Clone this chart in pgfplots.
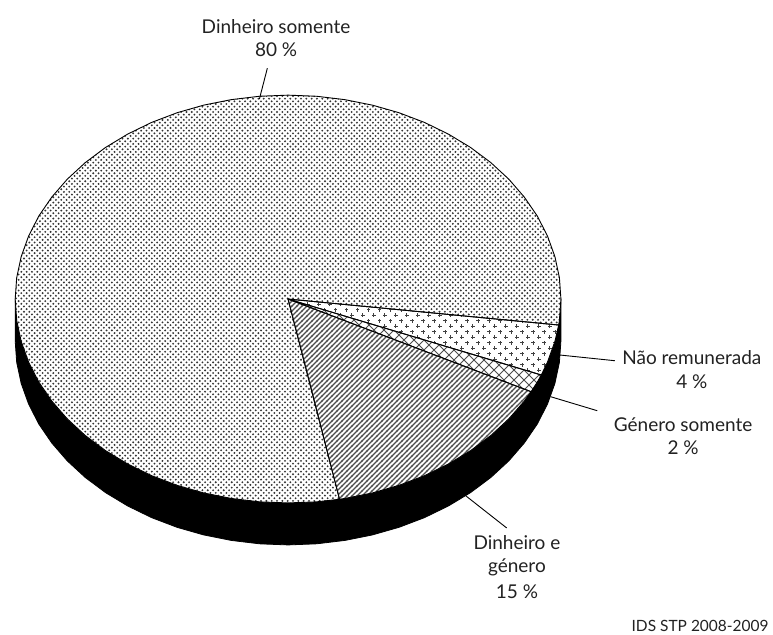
\documentclass[border=0pt]{standalone}
\usepackage{pgfplots}
\pgfplotsset{compat=1.18}
\usepackage{fontspec}
\setmainfont{Lato}
\usetikzlibrary{patterns}
\definecolor{txt}{HTML}{222222}
\tikzset{lab/.style={font=\fontsize{19}{22}\selectfont, text=txt, inner sep=0pt}}
\pgfdeclarepatternformonly{pdots}{\pgfqpoint{-1.2pt}{-1.2pt}}{\pgfqpoint{4.33pt}{4.33pt}}{\pgfqpoint{5.33pt}{5.33pt}}{%
  \pgfpathcircle{\pgfqpoint{0pt}{0pt}}{1.05pt}\pgfusepath{fill}
  \pgfpathcircle{\pgfqpoint{2.665pt}{2.665pt}}{1.05pt}\pgfusepath{fill}}
\pgfdeclarepatternformonly{pplus}{\pgfqpoint{-2pt}{-2pt}}{\pgfqpoint{9pt}{9pt}}{\pgfqpoint{11pt}{11pt}}{%
  \pgfpathrectangle{\pgfqpoint{-1.8pt}{-0.6pt}}{\pgfqpoint{3.6pt}{1.2pt}}\pgfusepath{fill}
  \pgfpathrectangle{\pgfqpoint{-0.6pt}{-1.8pt}}{\pgfqpoint{1.2pt}{3.6pt}}\pgfusepath{fill}
  \pgfpathrectangle{\pgfqpoint{3.7pt}{4.9pt}}{\pgfqpoint{3.6pt}{1.2pt}}\pgfusepath{fill}
  \pgfpathrectangle{\pgfqpoint{4.9pt}{3.7pt}}{\pgfqpoint{1.2pt}{3.6pt}}\pgfusepath{fill}}
\pgfdeclarepatternformonly{pcross}{\pgfqpoint{0pt}{0pt}}{\pgfqpoint{10pt}{10pt}}{\pgfqpoint{10pt}{10pt}}{%
  \pgfsetlinewidth{1pt}
  \pgfpathmoveto{\pgfqpoint{0pt}{0pt}}\pgfpathlineto{\pgfqpoint{10pt}{10pt}}
  \pgfpathmoveto{\pgfqpoint{0pt}{10pt}}\pgfpathlineto{\pgfqpoint{10pt}{0pt}}\pgfusepath{stroke}}
\pgfdeclarepatternformonly{phatch}{\pgfqpoint{0pt}{0pt}}{\pgfqpoint{5.33pt}{5.33pt}}{\pgfqpoint{5.33pt}{5.33pt}}{%
  \pgfsetlinewidth{1.5pt}
  \pgfpathmoveto{\pgfqpoint{-1pt}{-1pt}}\pgfpathlineto{\pgfqpoint{6.33pt}{6.33pt}}
  \pgfpathmoveto{\pgfqpoint{-1pt}{4.33pt}}\pgfpathlineto{\pgfqpoint{1pt}{6.33pt}}
  \pgfpathmoveto{\pgfqpoint{4.33pt}{-1pt}}\pgfpathlineto{\pgfqpoint{6.33pt}{1pt}}\pgfusepath{stroke}}
\begin{document}
\begin{tikzpicture}
\begin{axis}[
  scale only axis, width=773pt, height=634pt,
  xmin=0, xmax=773, ymin=0, ymax=634, y dir=reverse,
  hide axis, clip=false,
]
\addplot[draw=white, fill=white, forget plot] coordinates {(0,0) (773,0) (773,634) (0,634)} -- cycle;
% side of the disc
\addplot[draw=black, fill=black, line width=0.8pt] coordinates {
 (15,299) (15,341) (16.5,362.3) (21,383.4) (28.4,404) (38.6,424) (51.6,443) (67.1,460.9) (85.1,477.5) (105.3,492.6) (127.5,506) (151.5,517.7) (177,527.4) (203.6,535) (231.2,540.5) (259.5,543.9) (288,545)
 (316.5,543.9) (344.8,540.5) (372.4,535) (399,527.4) (424.5,517.7) (448.5,506) (470.7,492.6) (490.9,477.5) (508.9,460.9) (524.4,443) (537.4,424) (547.6,404) (555,383.4) (559.5,362.3) (561,341) (561,299)
} -- cycle;
% white underlay of the top of the disc
\addplot[draw=none, fill=white] coordinates {
 (561,299) (559.5,320.3) (555,341.4) (547.6,362) (537.4,382) (524.4,401) (508.9,418.9) (490.9,435.5) (470.7,450.6) (448.5,464) (424.5,475.7) (399,485.4) (372.4,493) (344.8,498.5) (316.5,501.9) (288,503) (259.5,501.9) (231.2,498.5) (203.6,493) (177,485.4) (151.5,475.7) (127.5,464) (105.3,450.6) (85.1,435.5) (67.1,418.9) (51.6,401) (38.6,382) (28.4,362) (21,341.4) (16.5,320.3) (15,299)
 (16.5,277.7) (21,256.6) (28.4,236) (38.6,216) (51.6,197) (67.1,179.1) (85.1,162.5) (105.3,147.4) (127.5,134) (151.5,122.3) (177,112.6) (203.6,105) (231.2,99.5) (259.5,96.1) (288,95)
 (316.5,96.1) (344.8,99.5) (372.4,105) (399,112.6) (424.5,122.3) (448.5,134) (470.7,147.4) (490.9,162.5) (508.9,179.1) (524.4,197) (537.4,216) (547.6,236) (555,256.6) (559.5,277.7)
} -- cycle;
% Dinheiro somente
\addplot[draw=black, line width=0.9pt, pattern=pdots, pattern color=black!80] coordinates {
 (288,299) (339.5,499.3) (316.5,501.9) (288,503) (259.5,501.9) (231.2,498.5) (203.6,493) (177,485.4) (151.5,475.7) (127.5,464) (105.3,450.6) (85.1,435.5) (67.1,418.9) (51.6,401) (38.6,382) (28.4,362) (21,341.4) (16.5,320.3) (15,299)
 (16.5,277.7) (21,256.6) (28.4,236) (38.6,216) (51.6,197) (67.1,179.1) (85.1,162.5) (105.3,147.4) (127.5,134) (151.5,122.3) (177,112.6) (203.6,105) (231.2,99.5) (259.5,96.1) (288,95)
 (316.5,96.1) (344.8,99.5) (372.4,105) (399,112.6) (424.5,122.3) (448.5,134) (470.7,147.4) (490.9,162.5) (508.9,179.1) (524.4,197) (537.4,216) (547.6,236) (555,256.6) (559.5,277.7) (561,299) (559.5,320.3) (558.8,325)
} -- cycle;
% Nao remunerada
\addplot[draw=black, line width=0.9pt, pattern=pplus, pattern color=black!75] coordinates {
 (288,299) (558.8,325) (555,341.4) (547.6,362) (541.4,375)
} -- cycle;
% Genero somente
\addplot[draw=black, line width=0.9pt, pattern=pcross, pattern color=black!70] coordinates {
 (288,299) (541.4,375) (537.4,382) (531.2,391.7)
} -- cycle;
% Dinheiro e genero
\addplot[draw=black, line width=0.9pt, pattern=phatch, pattern color=black!70] coordinates {
 (288,299) (531.2,391.7) (524.4,401) (508.9,418.9) (490.9,435.5) (470.7,450.6) (448.5,464) (424.5,475.7) (399,485.4) (372.4,493) (344.8,498.5) (339.5,499.3)
} -- cycle;
% leaders
\addplot[black, line width=0.9pt] coordinates {(267.3,68) (259.3,99)};
\addplot[black, line width=0.9pt] coordinates {(560,355) (615,360.7)};
\addplot[black, line width=0.9pt] coordinates {(550.7,396.7) (597.3,410.7)};
\addplot[black, line width=0.9pt] coordinates {(466,496) (506.7,528)};
% labels
\node[lab] at (axis cs:276,26) {Dinheiro somente};
\node[lab] at (axis cs:276,50) {80 \%};
\node[lab] at (axis cs:692,358) {Não remunerada};
\node[lab] at (axis cs:692,382) {4 \%};
\node[lab] at (axis cs:683.3,425) {Género somente};
\node[lab] at (axis cs:683.3,448) {2 \%};
\node[lab] at (axis cs:517,543) {Dinheiro e};
\node[lab] at (axis cs:517,567) {género};
\node[lab] at (axis cs:517,592) {15 \%};
\node[lab, anchor=east, font=\fontsize{15.5}{18}\selectfont] at (axis cs:769,626) {IDS STP 2008-2009};
\end{axis}
\end{tikzpicture}
\end{document}
